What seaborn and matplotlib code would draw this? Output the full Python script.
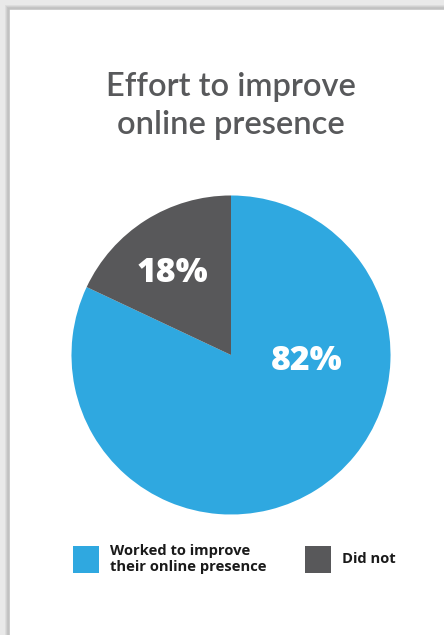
import matplotlib
matplotlib.use("Agg")
import matplotlib.pyplot as plt
from matplotlib.patches import Rectangle
import seaborn as sns

# Survey shares
categories = ["Worked to improve\ntheir online presence", "Did not"]
shares = [82, 18]
slice_colors = ["#2fa8e0", "#58585a"]
title_text = "Effort to improve\nonline presence"

sns.set_theme(style="white")
plt.rcParams["font.family"] = ["Open Sans", "DejaVu Sans"]

W, H, DPI = 444, 635, 100
fig = plt.figure(figsize=(W / DPI, H / DPI), dpi=DPI)
fig.patch.set_facecolor("#e9e9e9")

def px(x, y):
    """Pixel (from top-left) to figure fraction."""
    return x / W, 1 - y / H

# soft shadow around the card, then the card itself
for i, a in enumerate([0.05, 0.05, 0.06, 0.07]):
    off = 4 - i
    x0, y0 = px(9 - off, 9 - off)
    fig.patches.append(Rectangle((x0, 0), 1.2, y0 + 0.0, transform=fig.transFigure,
                                 facecolor="black", alpha=a, edgecolor="none", zorder=0))
x0, y0 = px(9, 9)
fig.patches.append(Rectangle((x0, -0.1), 1.2, y0 + 0.1, transform=fig.transFigure,
                             facecolor="white", edgecolor="#c4c4c4", linewidth=1.2, zorder=1))

# title
tx, ty = px(231, 106)
fig.text(tx, ty, title_text, ha="center", va="center", fontsize=23.5,
         color="#58595b", family=["Lato", "DejaVu Sans"], fontweight="semibold",
         linespacing=1.3, zorder=3)

# pie
cx, cy, r = 231, 355, 160
ax = fig.add_axes([(cx - r) / W, (H - cy - r) / H, 2 * r / W, 2 * r / H])
ax.set_zorder(2)
wedges, _ = ax.pie(shares, colors=slice_colors, startangle=90, counterclock=False,
                   radius=0.997, wedgeprops=dict(linewidth=0))
ax.set_xlim(-1, 1)
ax.set_ylim(-1, 1)
ax.set_aspect("equal")
ax.axis("off")

# value labels
label_pos = [(0.47, -0.04), (-0.365, 0.515)]
for (lx, ly), v in zip(label_pos, shares):
    ax.text(lx, ly, f"{v}%", ha="center", va="center", color="white",
            fontsize=24.3, fontweight="heavy")

# legend
legend_items = [(73, 110), (305, 342)]
for (sx, tx_), lab, col in zip(legend_items, categories, slice_colors):
    rx, ry = px(sx, 573)
    fig.patches.append(Rectangle((rx, ry), 26 / W, 27 / H, transform=fig.transFigure,
                                 facecolor=col, edgecolor="none", zorder=3))
    lx, ly = px(tx_, 559)
    fig.text(lx, ly, lab, ha="left", va="center", fontsize=10.6, fontweight="bold",
             color="#1a1a1a", linespacing=1.12, zorder=3)

fig.savefig("out.png", dpi=DPI)
